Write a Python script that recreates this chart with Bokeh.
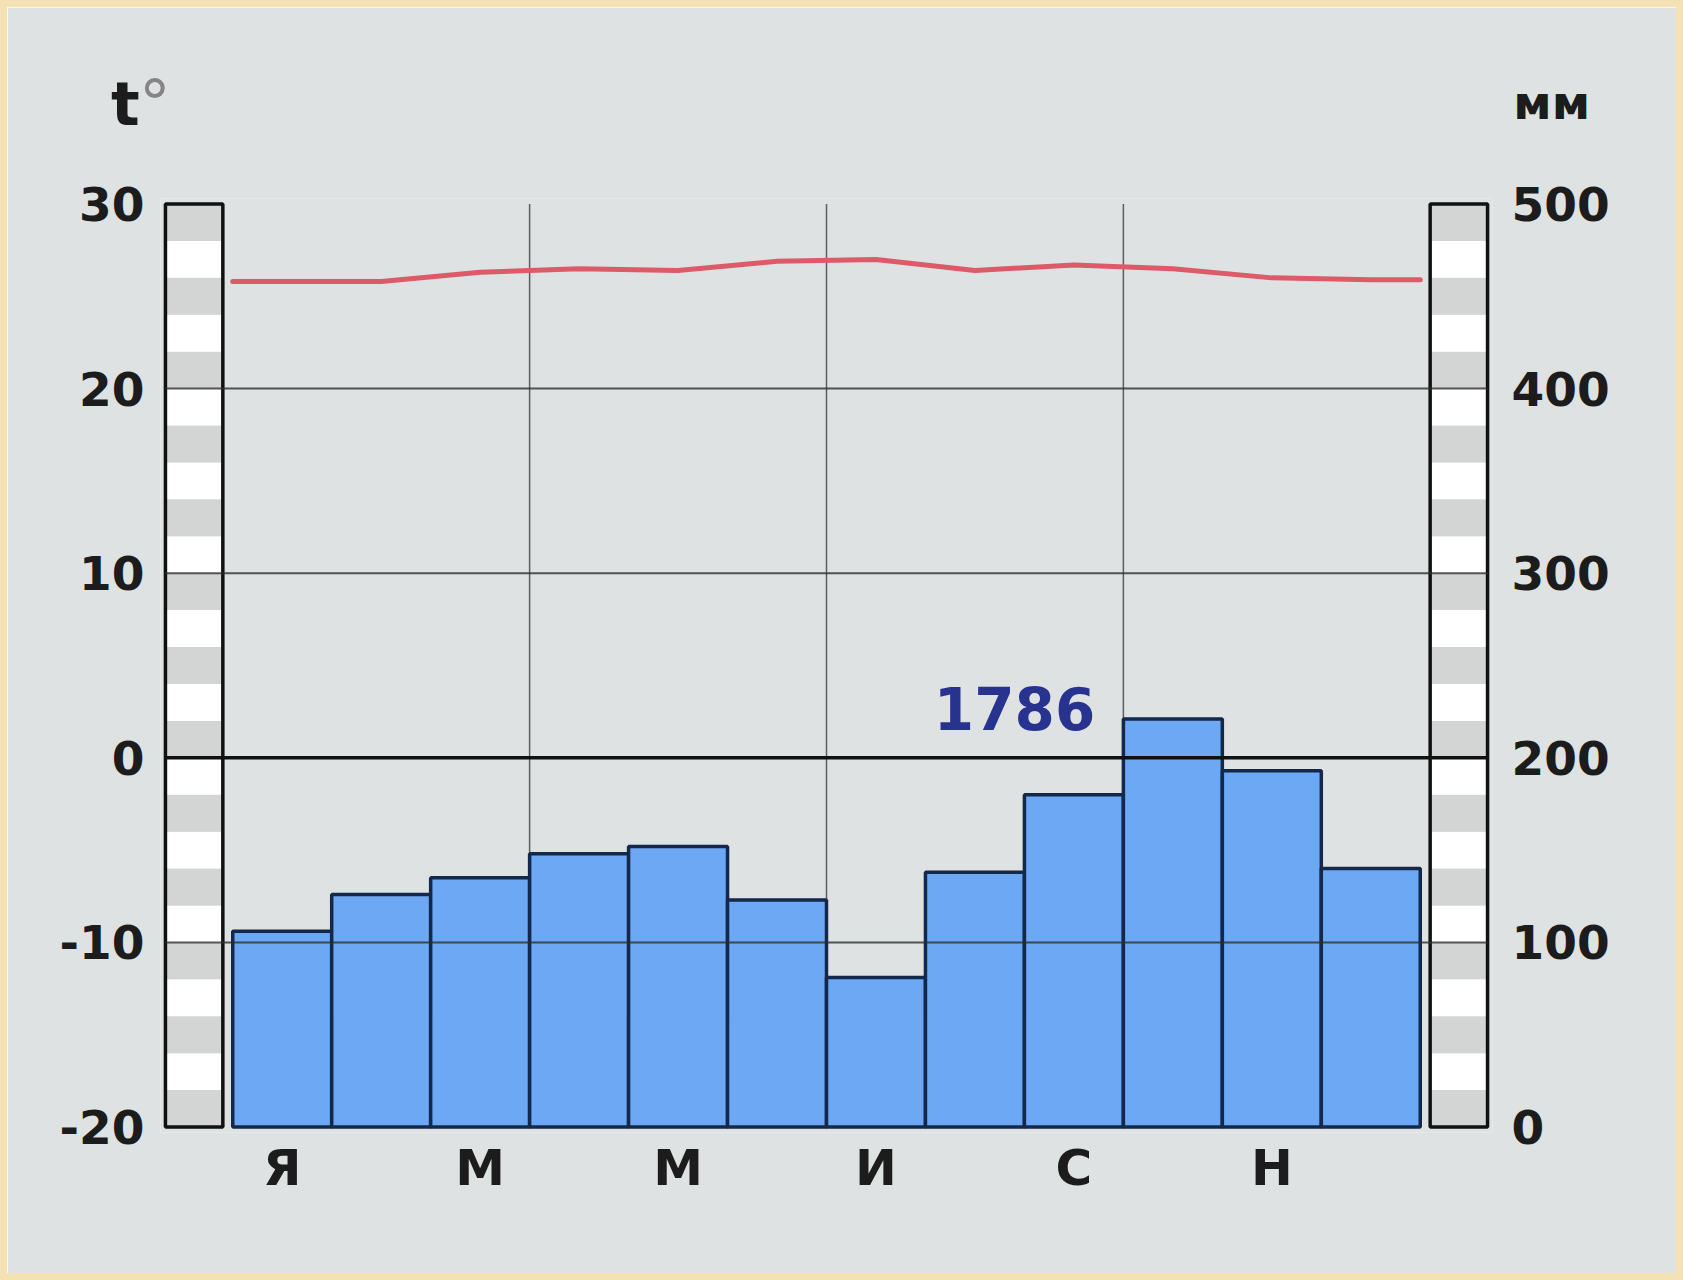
import numpy as np
from bokeh.plotting import figure
from bokeh.models import Range1d, LinearAxis, FixedTicker, Label
from bokeh.core.properties import value
from bokeh.embed import file_html
from bokeh.resources import INLINE

# ---- data ----
months = ["Я", "Ф", "М", "А", "М", "И", "И", "А", "С", "О", "Н", "Д"]
month_tick_labels = ["Я", "М", "М", "И", "С", "Н"]
precip_mm = [106, 126, 135, 148, 152, 123, 81, 138, 180, 221, 193, 140]
temp_c = [25.8, 25.8, 26.3, 26.5, 26.4, 26.9, 27.0, 26.4, 26.7, 26.5, 26.0, 25.9]
temp_ticks = [-20, -10, 0, 10, 20, 30]
temp_tick_labels = ["-20", "-10", "0", "10", "20", "30"]
precip_ticks = [0, 100, 200, 300, 400, 500]
precip_tick_labels = ["0", "100", "200", "300", "400", "500"]
annual_total = "1786"
temp_unit = "t"
degree_sign = "°"
precip_unit = "мм"

# ---- layout ----
EDGE = 7
W, H = 1683 - 2 * EDGE, 1280 - 2 * EDGE
BG = "#dfe2e2"
FONT = "DejaVu Sans"
T_MIN, T_MAX = -20, 30
PAD = 0.3
MM_PER_DEG = 10.0

p = figure(width=W, height=H,
           x_range=Range1d(-0.73, 12.73),
           y_range=Range1d(T_MIN - PAD, T_MAX + PAD),
           output_backend="svg", toolbar_location=None,
           min_border_left=160 - EDGE, min_border_right=191 - EDGE,
           min_border_top=198 - EDGE, min_border_bottom=146 - EDGE)
p.extra_y_ranges = {"mm": Range1d((-PAD) * MM_PER_DEG, (T_MAX - T_MIN + PAD) * MM_PER_DEG)}
p.background_fill_color = BG
p.border_fill_color = BG
p.outline_line_color = None
p.grid.visible = False
p.styles = {"margin": f"{EDGE}px", "box-shadow": f"0 0 0 {EDGE}px #f4e2b4"}

def style_axis(ax, size, standoff):
    ax.axis_line_color = None
    ax.major_tick_line_color = None
    ax.minor_tick_line_color = None
    ax.major_tick_out = 0
    ax.major_tick_in = 0
    ax.major_label_text_font = FONT
    ax.major_label_text_font_style = "bold"
    ax.major_label_text_font_size = size
    ax.major_label_text_color = "#1c1c1c"
    ax.major_label_standoff = standoff

# left axis (temperature)
p.yaxis.ticker = FixedTicker(ticks=temp_ticks)
p.yaxis.major_label_overrides = dict(zip(temp_ticks, temp_tick_labels))
style_axis(p.yaxis[0], "47px", 16)

# right axis (precipitation)
rax = LinearAxis(y_range_name="mm", ticker=FixedTicker(ticks=precip_ticks),
                 major_label_overrides=dict(zip(precip_ticks, precip_tick_labels)))
style_axis(rax, "47px", 19)
p.add_layout(rax, "right")

# bottom axis (months)
centers = [i + 0.5 for i in range(len(months))]
month_ticks = centers[::2]
p.xaxis.ticker = FixedTicker(ticks=month_ticks)
p.xaxis.major_label_overrides = dict(zip(month_ticks, month_tick_labels))
style_axis(p.xaxis[0], "50px", 6)

# vertical grid lines at quarter boundaries
vx = [3, 6, 9]
p.segment(x0=vx, x1=vx, y0=T_MIN, y1=T_MAX, line_color="#5e5e5e", line_width=1.5)

# striped scale bars
stripe_bottom = list(range(T_MIN, T_MAX, 2))
stripe_top = [b + 2 for b in stripe_bottom]
stripe_colors = ["#d3d5d5" if i % 2 == 0 else "#ffffff" for i in range(len(stripe_bottom))]
for (l, r) in [(-0.68, -0.10), (12.10, 12.68)]:
    p.quad(left=l, right=r, bottom=stripe_bottom, top=stripe_top,
           fill_color=stripe_colors, line_color=None)
p.quad(left=[-0.68, 12.10], right=[-0.10, 12.68], bottom=T_MIN, top=T_MAX,
       fill_color=None, line_color="#111111", line_width=3.5)

# precipitation bars
p.vbar(x=centers, width=1.0, bottom=0, top=precip_mm, y_range_name="mm",
       fill_color="#6ca8f3", line_color="#13284a", line_width=3.5)

# horizontal lines
hy = [-10, 10, 20]
p.segment(x0=-0.68, x1=12.68, y0=hy, y1=hy, line_color="#2e2e2e", line_width=2, line_alpha=0.8)
p.segment(x0=[-0.68], x1=[12.68], y0=[0], y1=[0], line_color="#111111", line_width=3.5)

# temperature line
tx = [0] + centers + [len(months)]
ty = [temp_c[0]] + temp_c + [temp_c[-1]]
p.line(x=tx, y=ty, line_color="#dd5a69", line_width=5, line_join="round", line_cap="round")

# annual total
p.text(x=[7.9], y=[2.65], text=[annual_total], text_font=value(FONT), text_font_style="bold",
       text_font_size="58px", text_color="#28328f", text_align="center", text_baseline="middle")

# unit labels (placed in side panels so they are not clipped to the frame)
p.add_layout(Label(x=-1.23, y=35.4, text=temp_unit, text_font=FONT, text_font_style="bold",
                   text_font_size="60px", text_color="#1c1c1c", text_align="left",
                   text_baseline="alphabetic"), "left")
p.add_layout(Label(x=-0.95, y=35.4, text=degree_sign, text_font=FONT,
                   text_font_size="64px", text_color="#858585", text_align="left",
                   text_baseline="alphabetic"), "below")
p.add_layout(Label(x=12.94, y=35.5, text=precip_unit, text_font=FONT, text_font_style="bold",
                   text_font_size="47px", text_color="#1c1c1c", text_align="left",
                   text_baseline="alphabetic"), "above")

open("out.html", "w").write(file_html(p, INLINE))
